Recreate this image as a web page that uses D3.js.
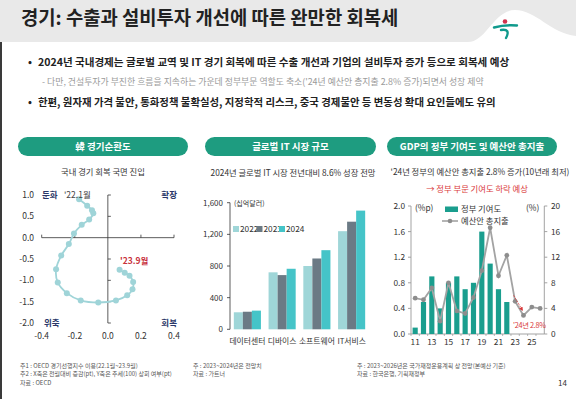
<!DOCTYPE html>
<html><head><meta charset="utf-8">
<script src="https://cdn.jsdelivr.net/npm/d3@7"></script>
<style>
html,body{margin:0;padding:0;background:#fff;}
svg{display:block;font-family:"Noto Sans CJK KR","Noto Sans",sans-serif;}
</style></head>
<body><svg id="c" width="576" height="399"></svg>
<script>
// ---------- data ----------
const cycleX = [-0.174,-0.125,-0.096,-0.088,-0.113,-0.158,-0.205,-0.236,-0.282,-0.313,-0.303,-0.248,-0.164,-0.058,0.049,0.117,0.149,0.153,0.131,0.102,0.071];
const cycleY = [0.90,0.75,0.645,0.57,0.425,0.30,0.095,-0.15,-0.42,-0.74,-1.05,-1.30,-1.47,-1.52,-1.47,-1.35,-1.21,-1.04,-0.89,-0.82,-0.75];
const cycleXTicks = [-0.4,-0.2,0.0,0.2,0.4];
const cycleYTicks = [1.0,0.5,0.0,-0.5,-1.0,-1.5,-2.0];

const itCategories = ["데이터센터","디바이스","소프트웨어","IT서비스"];
const itSeries = ["2022","2023","2024"];
const it2022 = [215,720,800,1240];
const it2023 = [222,685,895,1360];
const it2024 = [236,765,1000,1500];
const itTicks = [0,400,800,1200,1600];

const gdpYears = ["11","12","13","14","15","16","17","18","19","20","21","22","23","24","25","26"];
const govContrib = [0.1,0.5,0.9,0.4,0.8,0.9,0.7,0.8,1.6,1.1,0.7,0.5,null,null,null,null];
const budgetGrowth = [5.6,5.35,7.2,2.0,8.0,3.6,3.2,5.7,9.9,16.6,9.1,12.3,5.1,2.9,4.2,4.0];
const gdpLeftTicks = [0.0,0.4,0.8,1.2,1.6,2.0];
const gdpRightTicks = [0,4,8,12,16,20];
const gdpXLabels = ["11","13","15","17","19","21","23","25"];

// ---------- drawing ----------
const svg = d3.select("#c");
const GREEN = "#1e9c80";

// header
svg.append("rect").attr("x",0).attr("y",0).attr("width",576).attr("height",42).attr("fill","#e9e9e9");
svg.append("path").attr("d","M468,42 C486,42 494,10 515,10 C536,10 550,33 576,36 L576,42 Z").attr("fill","#fff");
svg.append("rect").attr("x",0).attr("y",42).attr("width",2).attr("height",357).attr("fill","#3a3a3a");
// logo
svg.append("circle").attr("cx",505).attr("cy",21.5).attr("r",2.3).attr("fill","#d1344e");
svg.append("path").attr("d","M494,27.5 Q505,24.5 517,25.5").attr("fill","none").attr("stroke","#109a8c").attr("stroke-width",2.4).attr("stroke-linecap","round");
svg.append("path").attr("d","M501,30 Q511,28.5 506,38").attr("fill","none").attr("stroke","#109a8c").attr("stroke-width",2.4).attr("stroke-linecap","round");

svg.append("text").attr("x",21).attr("y",25).attr("font-size",18.8).attr("font-weight","bold").attr("fill","#222")
  .text("경기: 수출과 설비투자 개선에 따른 완만한 회복세");

// bullets
function bullet(y, txt, size){
  svg.append("text").attr("x",28).attr("y",y).attr("font-size",size).attr("font-weight","bold").attr("fill","#222").text("•");
  svg.append("text").attr("x",38).attr("y",y).attr("font-size",size).attr("font-weight","bold").attr("fill","#222").text(txt);
}
bullet(66,"2024년 국내경제는 글로벌 교역 및 IT 경기 회복에 따른 수출 개선과 기업의 설비투자 증가 등으로 회복세 예상",10.55);
svg.append("text").attr("x",42).attr("y",85).attr("font-size",8.9).attr("fill","#9a9a9a")
  .text("- 다만, 건설투자가 부진한 흐름을 지속하는 가운데 정부부문 역할도 축소('24년 예산안 총지출 2.8% 증가)되면서 성장 제약");
bullet(106,"한편, 원자재 가격 불안, 통화정책 불확실성, 지정학적 리스크, 중국 경제불안 등 변동성 확대 요인들에도 유의",10.4);

// pills
function pill(x0,x1,txt){
  svg.append("rect").attr("x",x0).attr("y",137).attr("width",x1-x0).attr("height",19).attr("rx",9.5).attr("fill",GREEN);
  svg.append("text").attr("x",(x0+x1)/2).attr("y",150).attr("text-anchor","middle").attr("font-size",9.5).attr("font-weight","bold").attr("fill","#fff").text(txt);
}
pill(18,188,"韓 경기순환도");
pill(205,376,"글로벌 IT 시장 규모");
pill(387,557,"GDP의 정부 기여도 및 예산안 총지출");

function sub(x,y,txt,fill,size){
  svg.append("text").attr("x",x).attr("y",y).attr("text-anchor","middle").attr("font-size",size||8.3).attr("fill",fill||"#333").text(txt);
}
sub(103,175,"국내 경기 회복 국면 진입");
sub(293,176,"2024년 글로벌 IT 시장 전년대비 8.6% 성장 전망");
sub(480,175,"'24년 정부의 예산안 총지출 2.8% 증가(10년래 최저)");
sub(477,192,"→ 정부 부문 기여도 하락 예상","#d9383a");

// ---------- chart 1: cycle ----------
const x1 = d3.scaleLinear().domain([-0.4,0.4]).range([41.7,174]);
const y1 = d3.scaleLinear().domain([-2,1]).range([323,195]);
const g1 = svg.append("g");
g1.append("line").attr("x1",x1(-0.4)).attr("x2",x1(0.4)).attr("y1",y1(0)).attr("y2",y1(0)).attr("stroke","#333").attr("stroke-width",0.8);
g1.append("line").attr("x1",x1(0)).attr("x2",x1(0)).attr("y1",y1(1)).attr("y2",y1(-2)).attr("stroke","#333").attr("stroke-width",0.8);
cycleXTicks.forEach(v=>{ if(v!==0) g1.append("line").attr("x1",x1(v)).attr("x2",x1(v)).attr("y1",y1(0)).attr("y2",y1(0)-3).attr("stroke","#333").attr("stroke-width",0.8);});
cycleYTicks.forEach(v=>{ if(v!==0) g1.append("line").attr("x1",x1(0)).attr("x2",x1(0)+3).attr("y1",y1(v)).attr("y2",y1(v)).attr("stroke","#333").attr("stroke-width",0.8);});
cycleYTicks.forEach(v=>{
  g1.append("text").attr("x",34).attr("y",y1(v)+3).attr("text-anchor","end").attr("font-size",8.5).attr("fill","#333").text(d3.format(".1f")(v).replace("−","-"));
});
cycleXTicks.forEach(v=>{
  g1.append("text").attr("x",x1(v)).attr("y",338.5).attr("text-anchor","middle").attr("font-size",8.5).attr("fill","#333").text(d3.format(".1f")(v).replace("−","-"));
});
const pts1 = cycleX.map((v,i)=>[x1(v),y1(cycleY[i])]);
g1.append("path").attr("d",d3.line().curve(d3.curveCatmullRom)(pts1)).attr("fill","none").attr("stroke","#9fd4d8").attr("stroke-width",1.8);
g1.selectAll("circle").data(pts1).join("circle").attr("cx",d=>d[0]).attr("cy",d=>d[1]).attr("r",3).attr("fill","#9fd4d8");
function qlab(x,y,t,anchor){ g1.append("text").attr("x",x).attr("y",y).attr("text-anchor",anchor||"start").attr("font-size",8.5).attr("font-weight","bold").attr("fill","#2a3768").text(t); }
qlab(42,198,"둔화"); qlab(177,198,"확장","end"); qlab(44,325.5,"위축"); qlab(177,325.5,"회복","end");
g1.append("text").attr("x",64).attr("y",198).attr("font-size",8.5).attr("fill","#444").text("'22.1월");
g1.append("text").attr("x",120).attr("y",264).attr("font-size",8.5).attr("font-weight","bold").attr("fill","#c8323c").text("'23.9월");

// ---------- chart 2: IT market ----------
const x2 = d3.scaleBand().domain(itCategories).range([230,369]).paddingInner(0.22).paddingOuter(0.11);
const xs2 = d3.scaleBand().domain(itSeries).range([0,x2.bandwidth()]);
const y2 = d3.scaleLinear().domain([0,1600]).range([329.3,202.7]);
const itColors = {"2022":"#9fd6d8","2023":"#6b7a85","2024":"#45c4c8"};
const itVals = {"2022":it2022,"2023":it2023,"2024":it2024};
const g2 = svg.append("g");
g2.append("line").attr("x1",230).attr("x2",230).attr("y1",y2(1600)).attr("y2",y2(0)).attr("stroke","#333").attr("stroke-width",0.8);
itTicks.forEach(v=>{
  g2.append("line").attr("x1",227).attr("x2",230).attr("y1",y2(v)).attr("y2",y2(v)).attr("stroke","#333").attr("stroke-width",0.8);
  g2.append("text").attr("x",223).attr("y",y2(v)+3).attr("text-anchor","end").attr("font-size",8).attr("fill","#333").text(d3.format(",")(v));
});
itSeries.forEach(s=>{
  g2.selectAll(null).data(itCategories).join("rect")
    .attr("x",c=>x2(c)+xs2(s)).attr("width",xs2.bandwidth())
    .attr("y",(c,i)=>y2(itVals[s][i])).attr("height",(c,i)=>y2(0)-y2(itVals[s][i]))
    .attr("fill",itColors[s]);
});
itCategories.forEach(c=>{
  g2.append("text").attr("x",x2(c)+x2.bandwidth()/2).attr("y",344).attr("text-anchor","middle").attr("font-size",7.8).attr("fill","#333").text(c);
});
g2.append("text").attr("x",234).attr("y",206).attr("font-size",7).attr("fill","#333").text("(십억달러)");
const legX = [233,256.5,279];
itSeries.forEach((s,i)=>{
  g2.append("rect").attr("x",legX[i]).attr("y",226).attr("width",6).attr("height",6).attr("fill",itColors[s]);
  g2.append("text").attr("x",legX[i]+7).attr("y",232).attr("font-size",8.3).attr("fill","#333").text(s);
});

// ---------- chart 3: GDP ----------
const x3 = d3.scaleBand().domain(gdpYears).range([411,544.3]);
const yL = d3.scaleLinear().domain([0,2]).range([334,206]);
const yR = d3.scaleLinear().domain([0,20]).range([334,206]);
const g3 = svg.append("g");
const axc = "#999";
g3.append("line").attr("x1",411).attr("x2",411).attr("y1",206).attr("y2",334).attr("stroke",axc).attr("stroke-width",0.9);
g3.append("line").attr("x1",544.3).attr("x2",544.3).attr("y1",206).attr("y2",334).attr("stroke",axc).attr("stroke-width",0.9);
g3.append("line").attr("x1",411).attr("x2",544.3).attr("y1",334).attr("y2",334).attr("stroke",axc).attr("stroke-width",0.9);
gdpLeftTicks.forEach(v=>{
  g3.append("line").attr("x1",408).attr("x2",411).attr("y1",yL(v)).attr("y2",yL(v)).attr("stroke",axc).attr("stroke-width",0.9);
  g3.append("text").attr("x",405).attr("y",yL(v)+3).attr("text-anchor","end").attr("font-size",8.3).attr("fill","#333").text(d3.format(".1f")(v));
});
gdpRightTicks.forEach(v=>{
  g3.append("line").attr("x1",544.3).attr("x2",547.3).attr("y1",yR(v)).attr("y2",yR(v)).attr("stroke",axc).attr("stroke-width",0.9);
  g3.append("text").attr("x",551).attr("y",yR(v)+3).attr("font-size",8.3).attr("fill","#333").text(v);
});
gdpYears.forEach(y=>{
  g3.append("line").attr("x1",x3(y)).attr("x2",x3(y)).attr("y1",334).attr("y2",336).attr("stroke",axc).attr("stroke-width",0.7);
});
gdpXLabels.forEach(y=>{
  g3.append("text").attr("x",x3(y)+x3.bandwidth()/2).attr("y",344.5).attr("text-anchor","middle").attr("font-size",8.3).attr("fill","#333").text(y);
});
const bw = x3.bandwidth()*0.62;
g3.selectAll(null).data(gdpYears.map((y,i)=>({y,v:govContrib[i]})).filter(d=>d.v!==null)).join("rect")
  .attr("x",d=>x3(d.y)+(x3.bandwidth()-bw)/2).attr("width",bw)
  .attr("y",d=>yL(d.v)).attr("height",d=>yL(0)-yL(d.v)).attr("fill","#1a9e8e");
const pts3 = gdpYears.map((y,i)=>[x3(y)+x3.bandwidth()/2, yR(budgetGrowth[i])]);
g3.append("path").attr("d",d3.line()(pts3)).attr("fill","none").attr("stroke","#a3a3a3").attr("stroke-width",1.8);
g3.selectAll("circle").data(pts3).join("circle").attr("cx",d=>d[0]).attr("cy",d=>d[1]).attr("r",2.4).attr("fill","#8d8d8d");
// red arrow 23 -> 24
svg.append("defs").append("marker").attr("id","ah").attr("viewBox","0 0 6 6").attr("refX",5).attr("refY",3)
  .attr("markerWidth",5).attr("markerHeight",5).attr("orient","auto")
  .append("path").attr("d","M0,0 L6,3 L0,6 Z").attr("fill","#d9383a");
const i23 = gdpYears.indexOf("23"), i24 = gdpYears.indexOf("24");
g3.append("line").attr("x1",pts3[i23][0]-1.5).attr("y1",pts3[i23][1]-6).attr("x2",pts3[i24][0]-1).attr("y2",pts3[i24][1]-5)
  .attr("stroke","#d9383a").attr("stroke-width",0.8).attr("stroke-dasharray","2,1").attr("marker-end","url(#ah)");
g3.append("text").attr("x",513).attr("y",328).attr("font-size",7.3).attr("fill","#d9383a").attr("letter-spacing",-0.3).text("'24년 2.8%");
// legend
g3.append("rect").attr("x",445).attr("y",206.5).attr("width",13).attr("height",5.5).attr("fill","#1a9e8e");
g3.append("text").attr("x",461).attr("y",212).attr("font-size",8.3).attr("fill","#333").text("정부 기여도");
g3.append("line").attr("x1",442).attr("x2",458).attr("y1",221).attr("y2",221).attr("stroke","#a3a3a3").attr("stroke-width",1.6);
g3.append("circle").attr("cx",450).attr("cy",221).attr("r",2.3).attr("fill","#8d8d8d");
g3.append("text").attr("x",461).attr("y",224).attr("font-size",8.3).attr("fill","#333").text("예산안 총지출");
g3.append("text").attr("x",415).attr("y",211).attr("font-size",8.3).attr("fill","#333").text("(%p)");
g3.append("text").attr("x",526).attr("y",211).attr("font-size",8.3).attr("fill","#333").text("(%)");

// ---------- footnotes ----------
function notes(x, lines){
  lines.forEach((t,i)=>svg.append("text").attr("x",x).attr("y",367.5+i*8.9).attr("font-size",6).attr("fill","#555").text(t));
}
notes(20,["주1 : OECD 경기선행지수 이용(22.1월~23.9월)","주2 : X축은 전월대비 증감(pt), Y축은 추세(100) 상회 여부(pt)","자료 : OECD"]);
notes(193,["주 : 2023~2024년은 전망치","자료 : 가트너"]);
notes(357,["주 : 2023~2026년은 국가재정운용계획 상 전망(본예산 기준)","자료 : 한국은행, 기획재정부"]);
svg.append("text").attr("x",567).attr("y",386).attr("text-anchor","end").attr("font-size",8).attr("fill","#333").text("14");
</script></body></html>
